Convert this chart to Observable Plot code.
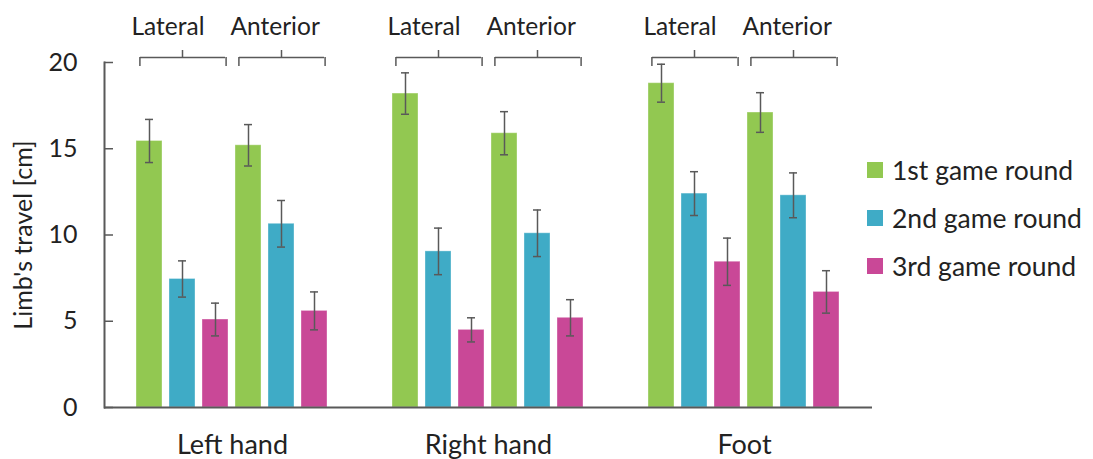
<!DOCTYPE html>
<html><head><meta charset="utf-8">
<script src="https://cdn.jsdelivr.net/npm/d3@7"></script>
<script src="https://cdn.jsdelivr.net/npm/@observablehq/plot@0.6"></script>
<style>
body{margin:0;background:#fff;font-family:Lato, sans-serif;}
#wrap{position:relative;width:1093px;height:459px;}
#legend{position:absolute;left:867px;top:146px;}
.item{display:flex;align-items:center;height:48px;font-size:26.5px;color:#222;white-space:nowrap}
.sw{width:16px;height:16px;margin-right:9px;flex:none}
</style></head><body><div id="wrap"><div id="legend"></div></div>
<script>
const limbs = ["Left hand", "Right hand", "Foot"];
const sides = ["Lateral", "Anterior"];
const rounds = ["1st game round", "2nd game round", "3rd game round"];
const colors = ["#92c851", "#3fabc6", "#c94897"];
const yTicks = [0, 5, 10, 15, 20];
const yMax = 20;
// order: Lateral 1st, 2nd, 3rd, Anterior 1st, 2nd, 3rd
const leftHandMeans = [15.45, 7.45, 5.1, 15.2, 10.65, 5.6];
const leftHandErrors = [1.25, 1.05, 0.95, 1.2, 1.35, 1.1];
const rightHandMeans = [18.2, 9.05, 4.5, 15.9, 10.1, 5.2];
const rightHandErrors = [1.2, 1.35, 0.7, 1.25, 1.35, 1.05];
const footMeans = [18.8, 12.4, 8.45, 17.1, 12.3, 6.7];
const footErrors = [1.1, 1.27, 1.37, 1.15, 1.3, 1.23];

const meansByLimb = [leftHandMeans, rightHandMeans, footMeans];
const errorsByLimb = [leftHandErrors, rightHandErrors, footErrors];
const keyOf = (side, round) => side + " " + round;
const xDomain = sides.flatMap(s => rounds.map(r => keyOf(s, r)));

const bars = [];
limbs.forEach((limb, li) => {
  sides.forEach((side, si) => {
    rounds.forEach((round, ri) => {
      const m = meansByLimb[li][si * 3 + ri];
      const e = errorsByLimb[li][si * 3 + ri];
      bars.push({limb, side, round, key: keyOf(side, round), mean: m, lo: m - e, hi: m + e});
    });
  });
});
const subgroups = limbs.flatMap(limb => sides.map(side => ({
  limb, side,
  k1: keyOf(side, rounds[0]), k2: keyOf(side, rounds[1]), k3: keyOf(side, rounds[2])
})));

const ink = "#595959";
const chart = Plot.plot({
  width: 1093, height: 459,
  marginLeft: 103, marginRight: 221, marginTop: 62, marginBottom: 52,
  style: {fontFamily: "Lato, sans-serif", color: "#222", background: "transparent"},
  fx: {domain: limbs, padding: 0},
  x: {domain: xDomain, paddingInner: 0.2, paddingOuter: 0.87, axis: null},
  y: {domain: [0, yMax]},
  color: {domain: rounds, range: colors},
  marks: [
    Plot.barY(bars, {fx: "limb", x: "key", y: "mean", fill: "round", stroke: "#fff", strokeOpacity: 0.35, strokeWidth: 1}),
    Plot.ruleX(bars, {fx: "limb", x: "key", y1: "lo", y2: "hi", stroke: ink, strokeWidth: 1.5}),
    Plot.tickY(bars, {fx: "limb", x: "key", y: "lo", inset: 9, stroke: ink, strokeWidth: 1.5}),
    Plot.tickY(bars, {fx: "limb", x: "key", y: "hi", inset: 9, stroke: ink, strokeWidth: 1.5}),
    Plot.ruleY([0], {stroke: ink, strokeWidth: 2}),
    Plot.frame({anchor: "left", facetAnchor: "left", stroke: ink, strokeWidth: 2}),
    // brackets above each subgroup
    Plot.ruleY(subgroups, {fx: "limb", x1: "k1", x2: "k3", y: () => yMax, dy: -5, insetLeft: 4, insetRight: 3, stroke: ink, strokeWidth: 1.5}),
    Plot.ruleX(subgroups, {fx: "limb", x: "k1", y1: () => yMax, y2: () => yMax, dx: -9.6, insetTop: -5, insetBottom: -4, stroke: ink, strokeWidth: 1.5}),
    Plot.ruleX(subgroups, {fx: "limb", x: "k3", y1: () => yMax, y2: () => yMax, dx: 10.6, insetTop: -5, insetBottom: -4, stroke: ink, strokeWidth: 1.5}),
    Plot.ruleX(subgroups, {fx: "limb", x: "k2", y1: () => yMax, y2: () => yMax, insetTop: -12, insetBottom: 5, stroke: ink, strokeWidth: 1.5}),
    Plot.text(subgroups, {fx: "limb", x: "k1", y: () => yMax, text: "side", textAnchor: "start", dx: -18, dy: -35, fontSize: 24.5, fill: "#222"}),
    Plot.axisY({ticks: yTicks, tickSize: -9, tickPadding: 36, fontSize: 25, stroke: ink, strokeWidth: 1.5,
      label: "Limb's travel [cm]", labelAnchor: "center", labelOffset: 90, labelArrow: "none"}),
    Plot.axisFx({anchor: "bottom", tickSize: 0, tickPadding: 27, fontSize: 27, label: null})
  ]
});
const wrap = document.getElementById("wrap");
wrap.insertBefore(chart, wrap.firstChild);

const legend = document.getElementById("legend");
rounds.forEach((r, i) => {
  const item = document.createElement("div");
  item.className = "item";
  const sw = document.createElement("span");
  sw.className = "sw";
  sw.style.background = colors[i];
  const t = document.createElement("span");
  t.textContent = r;
  item.append(sw, t);
  legend.append(item);
});
</script>
</body></html>
